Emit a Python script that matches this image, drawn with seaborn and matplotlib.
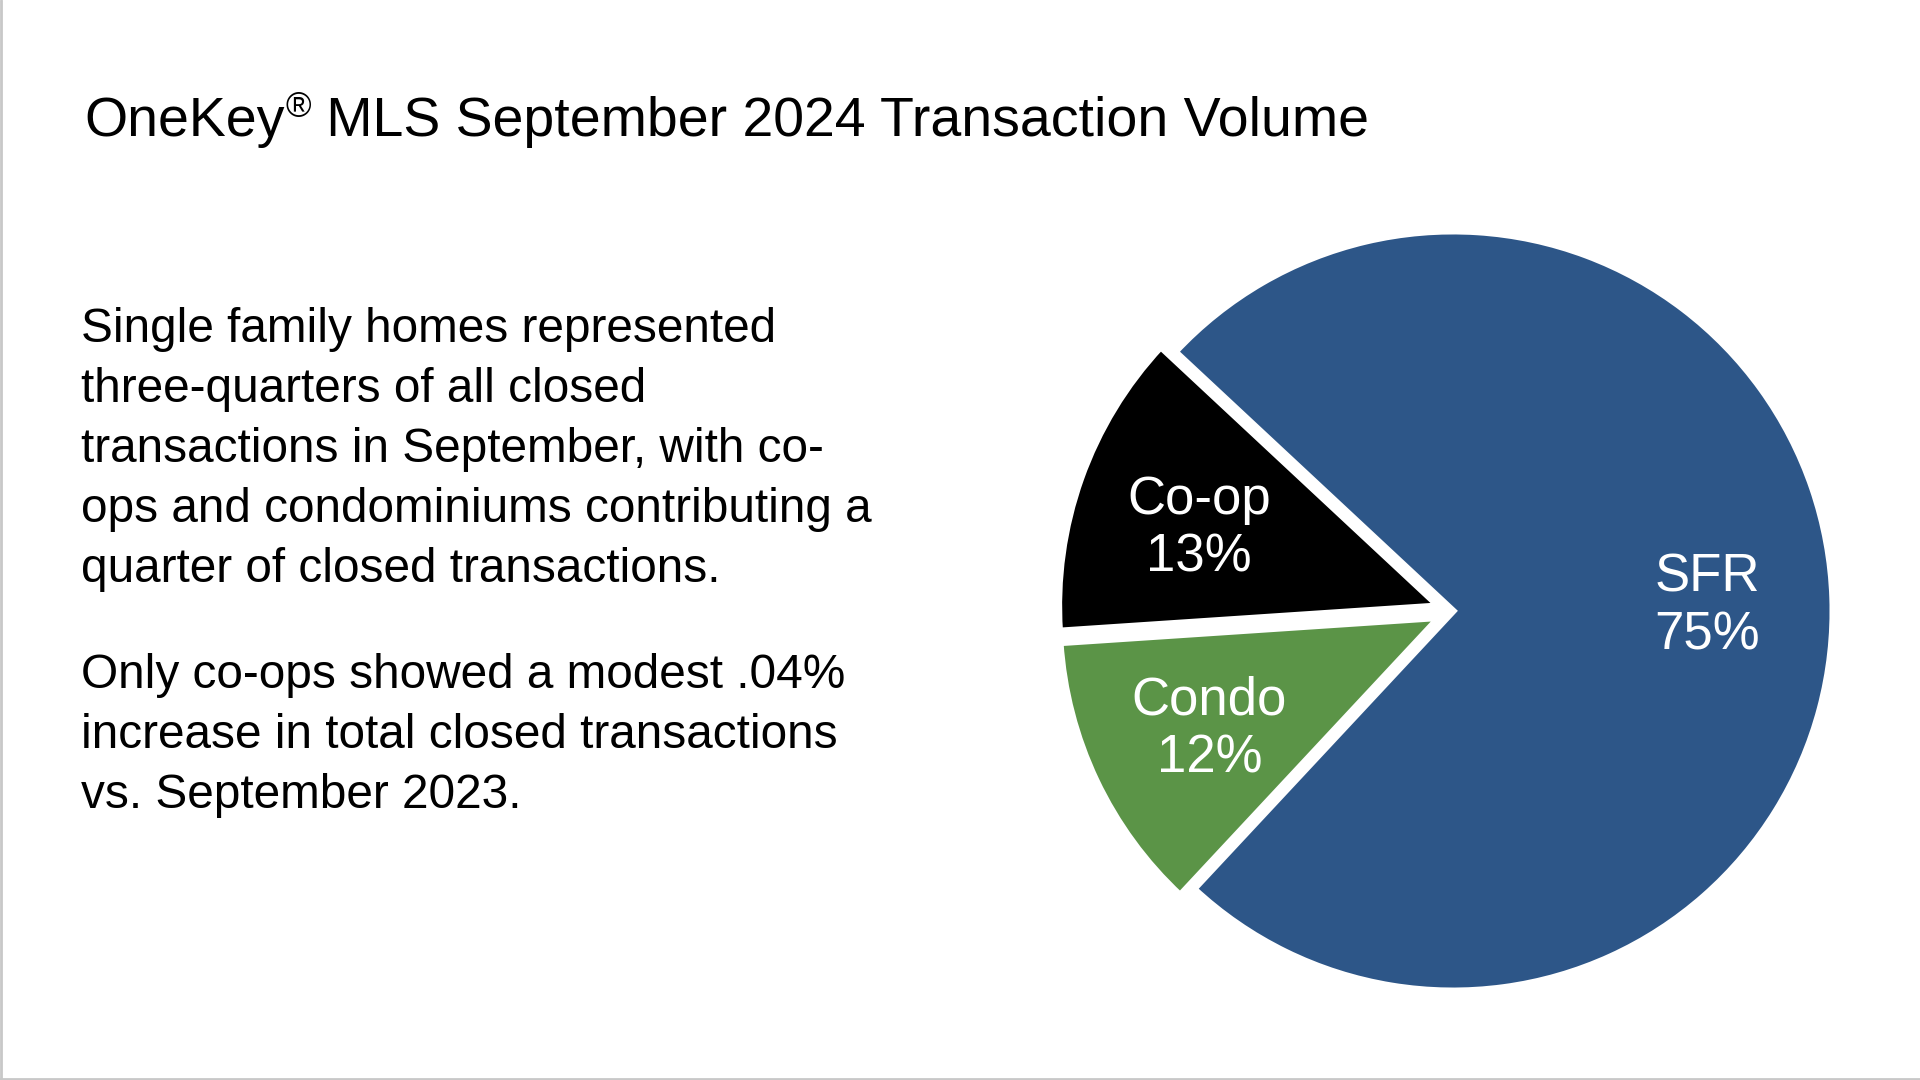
import matplotlib
matplotlib.use("Agg")
import matplotlib.pyplot as plt
import seaborn as sns
from matplotlib.lines import Line2D

# data
segments = ["Co-op", "Condo", "SFR"]
shares = [13, 12, 75]
seg_colors = ["#000000", "#5B9447", "#2D5688"]
explode = [0.04, 0.04, 0.0]

title_main = "OneKey"
title_mark = "\u00ae"
title_rest = " MLS September 2024 Transaction Volume"
para_1 = ("Single family homes represented\n"
          "three-quarters of all closed\n"
          "transactions in September, with co-\n"
          "ops and condominiums contributing a\n"
          "quarter of closed transactions.")
para_2 = ("Only co-ops showed a modest .04%\n"
          "increase in total closed transactions\n"
          "vs. September 2023.")

sns.set_theme(style="white")
plt.rcParams["font.family"] = ["Liberation Sans", "DejaVu Sans"]
plt.rcParams["text.color"] = "black"

W, H = 1920, 1080
fig = plt.figure(figsize=(19.2, 10.8), dpi=100)
fig.patch.set_facecolor("white")

# pie, placed in pixel units
cx, cy, r = 1453, 611, 380
ax = fig.add_axes([(cx - r) / W, (H - cy - r) / H, 2 * r / W, 2 * r / H])
labels = [f"{s}\n{v}%" for s, v in zip(segments, shares)]
wedges, texts = ax.pie(shares, labels=labels, colors=seg_colors, startangle=137,
                       counterclock=True, explode=explode, labeldistance=0.67,
                       wedgeprops=dict(edgecolor="white", linewidth=5),
                       textprops=dict(color="white", fontsize=38, ha="center",
                                      va="center", linespacing=1.2))
# nudge labels slightly down, like the slide
for t, dy in zip(texts, [0.022, 0.008, 0.012]):
    x, y = t.get_position()
    t.set_position((x, y - dy))
ax.set_xlim(-1, 1)
ax.set_ylim(-1, 1)
ax.set_aspect("equal")
ax.axis("off")
for w in wedges:
    w.set_clip_on(False)

# title with raised registered mark
renderer = fig.canvas.get_renderer()
t1 = fig.text(84 / W, 1 - 136 / H, title_main, fontsize=40, va="baseline", ha="left")
bb = t1.get_window_extent(renderer)
t2 = fig.text((bb.x1 + 1) / W, 1 - 117 / H, title_mark, fontsize=25, va="baseline", ha="left")
bb2 = t2.get_window_extent(renderer)
fig.text(bb2.x1 / W, 1 - 136 / H, title_rest, fontsize=40, va="baseline", ha="left")

# body text
fig.text(81 / W, 1 - 307 / H, para_1, fontsize=34.4, va="top", ha="left", linespacing=1.43)
fig.text(81 / W, 1 - 653 / H, para_2, fontsize=34.4, va="top", ha="left", linespacing=1.43)

# thin slide border
fig.add_artist(Line2D([1 / W, 1 / W], [0, 1], color="#c8c8c8", lw=2, transform=fig.transFigure))
fig.add_artist(Line2D([0, 1], [1.5 / H, 1.5 / H], color="#c8c8c8", lw=2, transform=fig.transFigure))

fig.savefig("out.png", dpi=100, facecolor="white")
